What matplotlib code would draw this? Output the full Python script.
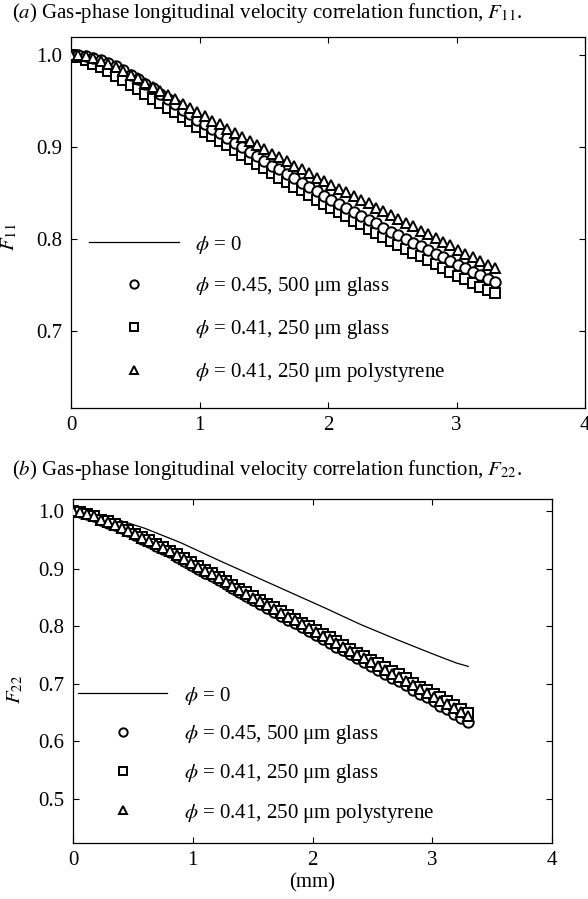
import numpy as np
import matplotlib
matplotlib.use('Agg')
import matplotlib.pyplot as plt

plt.rcParams['font.family'] = ['Liberation Serif', 'DejaVu Serif']
plt.rcParams['mathtext.fontset'] = 'stix'
plt.rcParams['font.size'] = 15

# separation r (mm), 58 samples per series
r = np.linspace(0, 3.3, 58)

labels = [r'$\phi$ = 0', r'$\phi$ = 0.45, 500 μm glass',
          r'$\phi$ = 0.41, 250 μm glass', r'$\phi$ = 0.41, 250 μm polystyrene']

# (a) F11
f11_line_r = [0, 0.5, 1.0, 1.5, 2.0, 2.5, 3.0, 3.3]
f11_line = [1.0, 0.975, 0.931, 0.886, 0.846, 0.807, 0.772, 0.753]
f11_glass500 = [1.000, 1.000, 0.999, 0.997, 0.995, 0.992, 0.988, 0.984, 0.979, 0.974,
                0.969, 0.964, 0.958, 0.953, 0.947, 0.941, 0.936, 0.930, 0.925, 0.920,
                0.915, 0.910, 0.905, 0.900, 0.895, 0.890, 0.885, 0.880, 0.876, 0.871,
                0.866, 0.861, 0.857, 0.852, 0.847, 0.843, 0.838, 0.834, 0.829, 0.825,
                0.821, 0.817, 0.812, 0.808, 0.804, 0.800, 0.796, 0.792, 0.788, 0.784,
                0.780, 0.776, 0.772, 0.768, 0.764, 0.761, 0.757, 0.753]
f11_glass250 = [1.000, 0.998, 0.995, 0.991, 0.987, 0.983, 0.978, 0.973, 0.968, 0.963,
                0.958, 0.953, 0.948, 0.943, 0.938, 0.933, 0.928, 0.922, 0.917, 0.912,
                0.907, 0.902, 0.897, 0.892, 0.887, 0.882, 0.877, 0.872, 0.867, 0.862,
                0.857, 0.853, 0.848, 0.843, 0.838, 0.834, 0.829, 0.825, 0.820, 0.816,
                0.811, 0.807, 0.802, 0.798, 0.794, 0.789, 0.785, 0.781, 0.777, 0.773,
                0.768, 0.764, 0.760, 0.756, 0.752, 0.748, 0.745, 0.741]
f11_poly = [1.000, 1.000, 0.999, 0.997, 0.994, 0.991, 0.987, 0.983, 0.979, 0.975,
            0.970, 0.966, 0.961, 0.957, 0.952, 0.947, 0.943, 0.938, 0.934, 0.929,
            0.925, 0.920, 0.916, 0.911, 0.907, 0.902, 0.898, 0.893, 0.889, 0.885,
            0.880, 0.876, 0.872, 0.867, 0.863, 0.859, 0.855, 0.851, 0.847, 0.843,
            0.839, 0.834, 0.830, 0.826, 0.822, 0.818, 0.814, 0.809, 0.805, 0.801,
            0.797, 0.793, 0.788, 0.784, 0.780, 0.776, 0.772, 0.768]

# (b) F22
f22_line_r = [0, 0.3, 0.6, 0.9, 1.2, 1.5, 1.8, 2.1, 2.4, 2.7, 3.0, 3.2, 3.3]
f22_line = [1.0, 0.990, 0.970, 0.945, 0.916, 0.888, 0.860, 0.832, 0.803, 0.777, 0.752, 0.736, 0.730]
f22_glass500 = [1.000, 0.998, 0.995, 0.991, 0.984, 0.980, 0.975, 0.970, 0.965, 0.959,
                0.952, 0.946, 0.940, 0.934, 0.928, 0.921, 0.913, 0.907, 0.900, 0.893,
                0.887, 0.880, 0.873, 0.866, 0.859, 0.852, 0.845, 0.839, 0.832, 0.825,
                0.818, 0.811, 0.805, 0.798, 0.792, 0.785, 0.777, 0.771, 0.764, 0.758,
                0.751, 0.744, 0.737, 0.730, 0.724, 0.717, 0.710, 0.704, 0.697, 0.689,
                0.682, 0.676, 0.669, 0.662, 0.656, 0.648, 0.641, 0.634]
f22_glass250 = [1.000, 0.998, 0.995, 0.991, 0.985, 0.982, 0.977, 0.972, 0.967, 0.961,
                0.955, 0.949, 0.943, 0.937, 0.931, 0.925, 0.918, 0.912, 0.905, 0.898,
                0.892, 0.885, 0.878, 0.872, 0.865, 0.859, 0.852, 0.846, 0.839, 0.833,
                0.826, 0.819, 0.813, 0.806, 0.801, 0.794, 0.787, 0.781, 0.774, 0.768,
                0.761, 0.754, 0.748, 0.741, 0.736, 0.729, 0.722, 0.716, 0.709, 0.702,
                0.695, 0.689, 0.682, 0.676, 0.670, 0.663, 0.656, 0.649]
f22_poly = [1.000, 0.998, 0.995, 0.991, 0.985, 0.981, 0.976, 0.971, 0.966, 0.960,
            0.954, 0.948, 0.942, 0.936, 0.930, 0.923, 0.916, 0.910, 0.903, 0.896,
            0.890, 0.883, 0.876, 0.870, 0.863, 0.856, 0.849, 0.843, 0.836, 0.830,
            0.823, 0.816, 0.810, 0.803, 0.797, 0.790, 0.783, 0.777, 0.770, 0.764,
            0.757, 0.750, 0.744, 0.737, 0.731, 0.724, 0.717, 0.711, 0.704, 0.697,
            0.690, 0.684, 0.677, 0.670, 0.664, 0.657, 0.650, 0.643]

fig = plt.figure(figsize=(5.88, 8.99), dpi=100)
W, H = 588, 899


def px_axes(l, t, rgt, b):
    return fig.add_axes([l / W, 1 - b / H, (rgt - l) / W, (b - t) / H])


mk = dict(linestyle='none', markerfacecolor='white', markeredgecolor='black',
          markeredgewidth=1.4, markersize=7.5)


def style(ax, yt):
    ax.set_xlim(0, 4)
    ax.set_xticks([0, 1, 2, 3, 4])
    ax.set_yticks(yt)
    ax.set_yticklabels(['%.1f' % v for v in yt])
    ax.tick_params(direction='in', top=True, right=True, length=4, width=0.8, pad=6,
                   labelsize=15)
    for s in ax.spines.values():
        s.set_linewidth(0.9)


# panel (a)
ax1 = px_axes(71, 37, 585, 408)
ax1.plot(f11_line_r, f11_line, color='black', lw=0.9, label=labels[0], zorder=1)
ax1.plot(r, f11_glass250, marker='s', label=labels[2], zorder=2, **mk)
ax1.plot(r, f11_glass500, marker='o', label=labels[1], zorder=3, **mk)
ax1.plot(r, f11_poly, marker='^', label=labels[3], zorder=4, **mk)
ax1.set_ylim(0.616, 1.02)
style(ax1, [0.7, 0.8, 0.9, 1.0])
ax1.set_ylabel(r'$F_{11}$')
ax1.yaxis.set_label_coords(-0.1, 0.46)
h, lab = ax1.get_legend_handles_labels()
order = [0, 2, 1, 3]
ax1.legend([h[i] for i in order], [lab[i] for i in order], loc='upper left',
           bbox_to_anchor=(0.035, 0.47), frameon=False, borderpad=0, borderaxespad=0,
           handlelength=4.3, handletextpad=0.8, labelspacing=0.95, markerscale=0.8,
           fontsize=15)
fig.text(12 / W, 1 - 13 / H,
         r'($a$) Gas-phase longitudinal velocity correlation function, $F_{11}$.',
         ha='left', va='center', fontsize=15)

# panel (b)
ax2 = px_axes(73, 499, 552, 843)
ax2.plot(f22_line_r, f22_line, color='black', lw=0.9, label=labels[0], zorder=1)
ax2.plot(r, f22_glass500, marker='o', label=labels[1], zorder=2, **mk)
ax2.plot(r, f22_glass250, marker='s', label=labels[2], zorder=3, **mk)
ax2.plot(r, f22_poly, marker='^', label=labels[3], zorder=4, **mk)
ax2.set_ylim(0.423, 1.021)
style(ax2, [0.5, 0.6, 0.7, 0.8, 0.9, 1.0])
ax2.set_ylabel(r'$F_{22}$')
ax2.yaxis.set_label_coords(-0.1, 0.445)
ax2.set_xlabel('(mm)', labelpad=2)
ax2.legend(loc='upper left', bbox_to_anchor=(0.01, 0.46), frameon=False, borderpad=0,
           borderaxespad=0, handlelength=4.3, handletextpad=0.8, labelspacing=0.78,
           markerscale=0.8, fontsize=15)
fig.text(12 / W, 1 - 470 / H,
         r'($b$) Gas-phase longitudinal velocity correlation function, $F_{22}$.',
         ha='left', va='center', fontsize=15)

fig.savefig('out.png', dpi=100)
